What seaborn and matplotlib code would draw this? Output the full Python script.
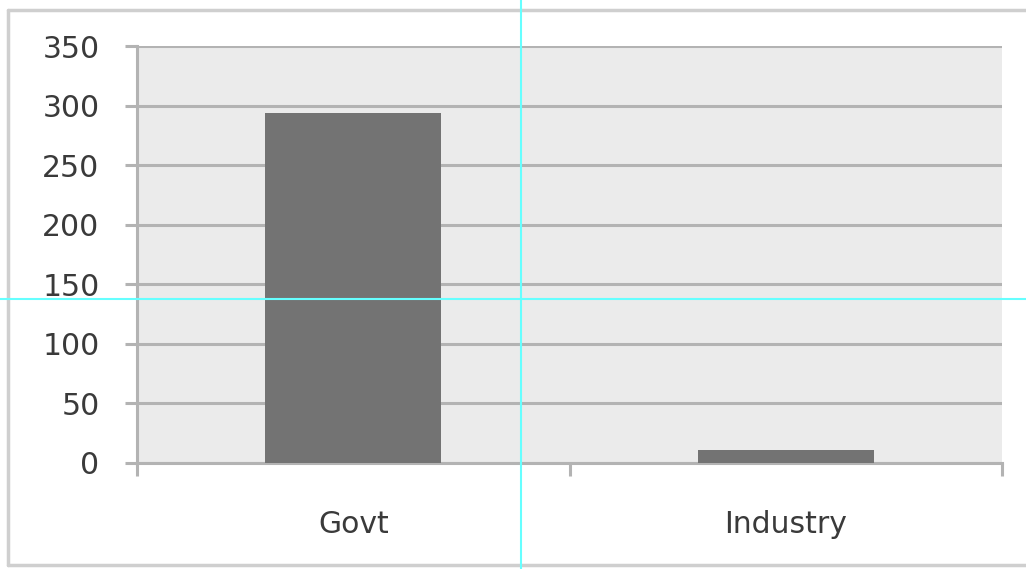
import matplotlib
matplotlib.use("Agg")
import matplotlib.pyplot as plt
import seaborn as sns
import pandas as pd
from matplotlib.lines import Line2D

categories = ["Govt", "Industry"]
values = [294, 11]
yticks = [0, 50, 100, 150, 200, 250, 300, 350]

sns.set_theme(style="white")
plt.rcParams['font.family'] = ['DejaVu Sans']

W, H = 1026, 569
fig = plt.figure(figsize=(W / 100, H / 100), dpi=100)
fig.patch.set_facecolor("white")

ax = fig.add_axes([137 / W, (H - 463) / H, (1002 - 137) / W, (463 - 46) / H])
ax.set_facecolor("#ebebeb")

df = pd.DataFrame({"cat": categories, "val": values})
sns.barplot(data=df, x="cat", y="val", color="#737373", saturation=1,
            width=0.406, ax=ax, zorder=3, edgecolor="none", linewidth=0)

grid_c = "#b3b3b3"
ax.set_ylim(0, 350)
ax.set_xlim(-0.5, 1.5)
ax.set_yticks(yticks)
ax.set_yticklabels([str(v) for v in yticks])
for v in yticks:
    ax.axhline(v, color=grid_c, lw=2.2, zorder=1)

for s in ["top", "right"]:
    ax.spines[s].set_visible(False)
for s in ["left", "bottom"]:
    ax.spines[s].set_color(grid_c)
    ax.spines[s].set_linewidth(2.2)

ax.set_xlabel("")
ax.set_ylabel("")
ax.tick_params(axis="y", length=9, width=2.2, color=grid_c, pad=18,
               labelsize=21.5, labelcolor="#3a3a3a", left=True)
ax.tick_params(axis="x", which="major", length=0, pad=34,
               labelsize=21.5, labelcolor="#3a3a3a")
ax.set_xticks([-0.5, 0.5, 1.5], minor=True)
ax.tick_params(axis="x", which="minor", length=9, width=2.2, color=grid_c,
               bottom=True)

# outer chart border (left, top, bottom; right edge lies off-canvas)
bc = "#cfcfcf"
x0, y0, y1 = 8 / W, (H - 565) / H, (H - 10) / H
fig.add_artist(Line2D([x0, x0], [y0, y1], transform=fig.transFigure, color=bc, lw=2.5))
fig.add_artist(Line2D([x0, 1], [y1, y1], transform=fig.transFigure, color=bc, lw=2.5))
fig.add_artist(Line2D([x0, 1], [y0, y0], transform=fig.transFigure, color=bc, lw=2.5))

# cyan guide lines
fig.add_artist(Line2D([521 / W, 521 / W], [0, 1], transform=fig.transFigure,
                      color="#66ffff", lw=1.5, zorder=10))
fig.add_artist(Line2D([0, 1], [(H - 299) / H, (H - 299) / H], transform=fig.transFigure,
                      color="#66ffff", lw=1.5, zorder=10))

fig.savefig("out.png", dpi=100)
